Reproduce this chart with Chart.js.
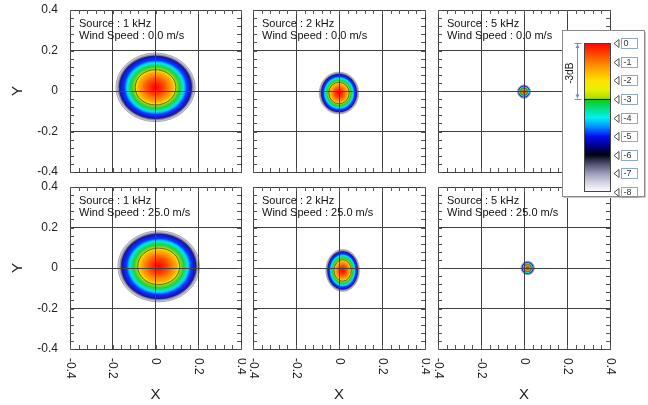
<!DOCTYPE html>
<html>
<head>
<meta charset="utf-8">
<script src="https://cdn.jsdelivr.net/npm/chart.js@4.4.1/dist/chart.umd.min.js"></script>
<style>
  html, body { margin: 0; padding: 0; background: #fff; }
  body { width: 648px; height: 405px; position: relative; overflow: hidden; }
  canvas { position: absolute; }
  #scaleBar { z-index: 5; }
</style>
</head>
<body>
<canvas id="p00"></canvas>
<canvas id="p01"></canvas>
<canvas id="p02"></canvas>
<canvas id="p10"></canvas>
<canvas id="p11"></canvas>
<canvas id="p12"></canvas>
<canvas id="scaleBar" width="90" height="180" style="left:558px;top:24px"></canvas>
<script>
const frequencies = ["1 kHz", "2 kHz", "5 kHz"];
const windSpeeds = ["0.0", "25.0"];
// centre of the field and half-axes of the -3 dB contour (row = wind speed, col = frequency)
const centerX = [[0.0, 0.0, 0.0], [0.015, 0.017, 0.017]];
const centerY = [[0.018, -0.01, -0.003], [0.008, -0.012, 0.0]];
const radiusX = [[0.095, 0.047, 0.0155], [0.098, 0.04, 0.016]];
const radiusY = [[0.087, 0.053, 0.017], [0.09, 0.053, 0.017]];
// level in dB and its distance from the centre, relative to the -3 dB contour
const levels = [0, -1, -2, -3, -4, -5, -6, -7, -8];
const levelRadius = [0, 0.5, 0.86, 1.0, 1.38, 1.6, 1.78, 1.88, 1.98];
const axisTicks = [-0.4, -0.2, 0, 0.2, 0.4];

Chart.defaults.font.family = "'Liberation Sans', Arial, sans-serif";
Chart.defaults.color = "#222";

const barStops = [
  [0, "#ff0000"], [-0.5, "#ff3c00"], [-1, "#ff7800"], [-1.5, "#ffb000"], [-2, "#ffe000"],
  [-2.5, "#e8f000"], [-2.95, "#b0e000"], [-3.05, "#10c818"], [-3.5, "#00e080"],
  [-4, "#00f0f0"], [-4.5, "#0090ff"], [-5, "#0010f0"], [-5.5, "#000090"], [-6, "#000010"],
  [-6.5, "#505070"], [-7, "#9c9cb8"], [-7.5, "#d4d4e2"], [-8, "#ffffff"]
];
const fieldStops = [
  [0, "#ff0000"], [-0.5, "#ff2800"], [-1, "#ff5a00"], [-1.5, "#ff8c00"], [-2, "#ffb400"],
  [-2.6, "#ffd800"], [-2.95, "#e0e800"], [-3.05, "#a0e000"], [-3.5, "#20d040"],
  [-4, "#00e8e0"], [-4.3, "#00b0ff"], [-4.7, "#0040ff"], [-5.4, "#1818e0"], [-5.9, "#18189a"],
  [-6.3, "#50507a"], [-6.6, "#9a9ab2"], [-7, "#b8b8c8"], [-7.5, "#dadae4"], [-8, "#ffffff"]
];

function radiusAt(db) {
  for (let i = 1; i < levels.length; i++) {
    if (db >= levels[i]) {
      const t = (levels[i - 1] - db) / (levels[i - 1] - levels[i]);
      return levelRadius[i - 1] + t * (levelRadius[i] - levelRadius[i - 1]);
    }
  }
  return levelRadius[levelRadius.length - 1];
}

// colour field + contours, drawn under the grid
const fieldPlugin = {
  id: "field",
  beforeDraw(chart) {
    const pt = chart.getDatasetMeta(0).data[0];
    const src = chart.data.datasets[0].data[0];
    const { x, y } = chart.scales;
    const rx = Math.abs(x.getPixelForValue(src.x + src.rx) - pt.x);
    const ry = Math.abs(y.getPixelForValue(src.y + src.ry) - pt.y);
    const outer = levelRadius[levelRadius.length - 1];
    const ctx = chart.ctx;
    const a = chart.chartArea;

    ctx.save();
    ctx.beginPath();
    ctx.rect(a.left, a.top, a.width, a.height);
    ctx.clip();
    ctx.save();
    ctx.translate(pt.x, pt.y);
    ctx.scale(1, ry / rx);
    const g = ctx.createRadialGradient(0, 0, 0, 0, 0, rx * outer);
    fieldStops.forEach(([db, c]) => g.addColorStop(radiusAt(db) / outer, c));
    ctx.fillStyle = g;
    ctx.beginPath();
    ctx.arc(0, 0, rx * outer, 0, Math.PI * 2);
    ctx.fill();
    ctx.restore();

    const contour = (db, color) => {
      const r = radiusAt(db);
      ctx.strokeStyle = color;
      ctx.lineWidth = 0.8;
      ctx.beginPath();
      ctx.ellipse(pt.x, pt.y, rx * r, ry * r, 0, 0, Math.PI * 2);
      ctx.stroke();
    };
    contour(-3, "#4a4a30");
    contour(-6.6, "#8a8a98");
    contour(-7.7, "#9a9aa6");
    ctx.restore();
  },
};

// minor ticks, panel caption, rotated x labels
const decoPlugin = {
  id: "deco",
  afterDraw(chart, args, opts) {
    const ctx = chart.ctx;
    const a = chart.chartArea;
    const { x, y } = chart.scales;
    ctx.save();
    ctx.strokeStyle = "#555";
    ctx.lineWidth = 1;
    ctx.beginPath();
    for (let v = x.min; v <= x.max + 1e-9; v += 0.04) {
      const px = Math.round(x.getPixelForValue(v)) + 0.5;
      ctx.moveTo(px, a.bottom);
      ctx.lineTo(px, a.bottom - 4);
      ctx.moveTo(px, a.top);
      ctx.lineTo(px, a.top + 4);
    }
    for (let v = y.min; v <= y.max + 1e-9; v += 0.04) {
      const py = Math.round(y.getPixelForValue(v)) + 0.5;
      ctx.moveTo(a.left, py);
      ctx.lineTo(a.left + 4, py);
      ctx.moveTo(a.right, py);
      ctx.lineTo(a.right - 4, py);
    }
    ctx.stroke();

    ctx.fillStyle = "#111";
    ctx.font = "11px 'Liberation Sans', Arial, sans-serif";
    ctx.textBaseline = "middle";
    ctx.textAlign = "left";
    ctx.fillText("Source : " + opts.freq, a.left + 9, a.top + 14);
    ctx.fillText("Wind Speed : " + opts.wind + " m/s", a.left + 9, a.top + 26);

    if (opts.showX) {
      ctx.fillStyle = "#222";
      ctx.font = "12px 'Liberation Sans', Arial, sans-serif";
      x.ticks.forEach((t) => {
        ctx.save();
        ctx.translate(x.getPixelForValue(t.value), a.bottom + 9);
        ctx.rotate(Math.PI / 2);
        ctx.fillText(t.label, 0, 0);
        ctx.restore();
      });
    }
    ctx.restore();
  },
};

const colLeft = [0, 246, 430], colWidth = [246, 184, 218];
const padLeft = [0, 7, 8], padRight = [5, 5, 38];
const rowTop = [0, 179], rowHeight = [180, 226];
const padTop = [10, 8], padBottom = [8, 0];

function noLabelPadding(s) {
  s.paddingTop = 0;
  s.paddingBottom = 0;
  s.paddingLeft = 0;
  s.paddingRight = 0;
}

function makePanel(row, col) {
  const canvas = document.getElementById("p" + row + col);
  canvas.width = colWidth[col];
  canvas.height = rowHeight[row];
  canvas.style.left = colLeft[col] + "px";
  canvas.style.top = rowTop[row] + "px";
  const firstCol = col === 0;
  const lastRow = row === 1;

  return new Chart(canvas, {
    type: "scatter",
    data: {
      datasets: [{
        data: [{ x: centerX[row][col], y: centerY[row][col], rx: radiusX[row][col], ry: radiusY[row][col] }],
        pointRadius: 0,
      }],
    },
    options: {
      responsive: false,
      animation: false,
      devicePixelRatio: 1,
      events: [],
      layout: { padding: { left: padLeft[col], right: padRight[col], top: padTop[row], bottom: padBottom[row] } },
      plugins: {
        legend: { display: false },
        tooltip: { enabled: false },
        deco: { freq: frequencies[col], wind: windSpeeds[row], showX: lastRow },
      },
      scales: {
        x: {
          min: -0.4,
          max: 0.4,
          afterBuildTicks: (s) => { s.ticks = axisTicks.map((v) => ({ value: v })); },
          ticks: { display: false },
          grid: { color: "#404040", lineWidth: 1, drawTicks: false },
          border: { color: "#404040" },
          title: {
            display: lastRow,
            text: "X",
            font: { size: 15 },
            color: "#222",
            padding: { top: 0, bottom: 1 },
          },
          afterFit: (s) => { s.height = lastRow ? 56 : 0; noLabelPadding(s); },
        },
        y: {
          min: -0.4,
          max: 0.4,
          afterBuildTicks: (s) => { s.ticks = axisTicks.map((v) => ({ value: v })); },
          ticks: { display: firstCol, padding: 12, font: { size: 12 }, color: "#222" },
          grid: { color: "#404040", lineWidth: 1, drawTicks: false },
          border: { color: "#404040" },
          title: {
            display: firstCol,
            text: "Y",
            font: { size: 15 },
            color: "#222",
            padding: { top: 9, bottom: 0 },
          },
          afterFit: (s) => { s.width = firstCol ? 70 : 0; noLabelPadding(s); },
        },
      },
    },
    plugins: [fieldPlugin, decoPlugin],
  });
}

for (let r = 0; r < windSpeeds.length; r++) {
  for (let c = 0; c < frequencies.length; c++) makePanel(r, c);
}

// colour scale box
const scalePlugin = {
  id: "scaleBox",
  beforeDraw(chart) {
    const ctx = chart.ctx;
    const a = chart.chartArea;
    const y = chart.scales.y;
    const top = y.getPixelForValue(0);
    const bottom = y.getPixelForValue(-8);

    ctx.save();
    ctx.fillStyle = "#c8c8c8";
    ctx.fillRect(6, 8, 82, 166);
    ctx.fillStyle = "#fff";
    ctx.fillRect(4, 6, 82, 166);
    ctx.strokeStyle = "#8a8a8a";
    ctx.lineWidth = 1;
    ctx.strokeRect(4.5, 6.5, 82, 166);

    const g = ctx.createLinearGradient(0, top, 0, bottom);
    barStops.forEach(([db, c]) => g.addColorStop((y.getPixelForValue(db) - top) / (bottom - top), c));
    ctx.fillStyle = g;
    ctx.fillRect(a.left, top, a.width, bottom - top);
    ctx.strokeStyle = "#444";
    ctx.strokeRect(a.left + 0.5, top + 0.5, a.width - 1, bottom - top - 1);

    const y3 = Math.round(y.getPixelForValue(-3)) + 0.5;
    ctx.strokeStyle = "#111";
    ctx.beginPath();
    ctx.moveTo(a.left, y3);
    ctx.lineTo(a.right, y3);
    ctx.stroke();

    // level markers
    ctx.font = "9px 'Liberation Sans', Arial, sans-serif";
    ctx.textBaseline = "middle";
    ctx.textAlign = "left";
    y.ticks.forEach((t) => {
      const py = Math.round(y.getPixelForValue(t.value)) + 0.5;
      ctx.strokeStyle = "#555";
      ctx.beginPath();
      ctx.moveTo(56, py);
      ctx.lineTo(61, py - 4);
      ctx.lineTo(61, py + 4);
      ctx.closePath();
      ctx.stroke();
      ctx.strokeStyle = "#8ea8cc";
      ctx.strokeRect(63.5, py - 5, 16, 10);
      ctx.fillStyle = "#333";
      ctx.fillText(t.label, 65.5, py + 0.5);
    });

    // -3dB span marker
    const x0 = 19.5;
    ctx.strokeStyle = "#6f90c8";
    ctx.fillStyle = "#6f90c8";
    ctx.beginPath();
    ctx.moveTo(x0, top + 1);
    ctx.lineTo(x0, y3 - 1);
    ctx.moveTo(x0 - 3, Math.round(top) + 0.5);
    ctx.lineTo(x0 + 4, Math.round(top) + 0.5);
    ctx.moveTo(x0 - 3, y3);
    ctx.lineTo(x0 + 4, y3);
    ctx.stroke();
    ctx.beginPath();
    ctx.moveTo(x0, top + 1);
    ctx.lineTo(x0 - 2, top + 5);
    ctx.lineTo(x0 + 2, top + 5);
    ctx.closePath();
    ctx.moveTo(x0, y3 - 1);
    ctx.lineTo(x0 - 2, y3 - 5);
    ctx.lineTo(x0 + 2, y3 - 5);
    ctx.closePath();
    ctx.fill();

    ctx.save();
    ctx.translate(12, (top + y3) / 2 + 2);
    ctx.rotate(-Math.PI / 2);
    ctx.textAlign = "center";
    ctx.fillStyle = "#222";
    ctx.font = "10px 'Liberation Sans', Arial, sans-serif";
    ctx.fillText("-3dB", 0, 0);
    ctx.restore();
    ctx.restore();
  },
};

new Chart(document.getElementById("scaleBar"), {
  type: "scatter",
  data: { datasets: [] },
  options: {
    responsive: false,
    animation: false,
    devicePixelRatio: 1,
    events: [],
    layout: { padding: { left: 26, right: 37, top: 19, bottom: 12 } },
    plugins: { legend: { display: false }, tooltip: { enabled: false } },
    scales: {
      x: { display: false },
      y: {
        position: "right",
        min: -8,
        max: 0,
        afterBuildTicks: (s) => { s.ticks = levels.map((v) => ({ value: v })); },
        ticks: { display: false },
        grid: { display: false },
        border: { display: false },
        afterFit: (s) => { s.width = 0; noLabelPadding(s); },
      },
    },
  },
  plugins: [scalePlugin],
});
</script>
</body>
</html>
